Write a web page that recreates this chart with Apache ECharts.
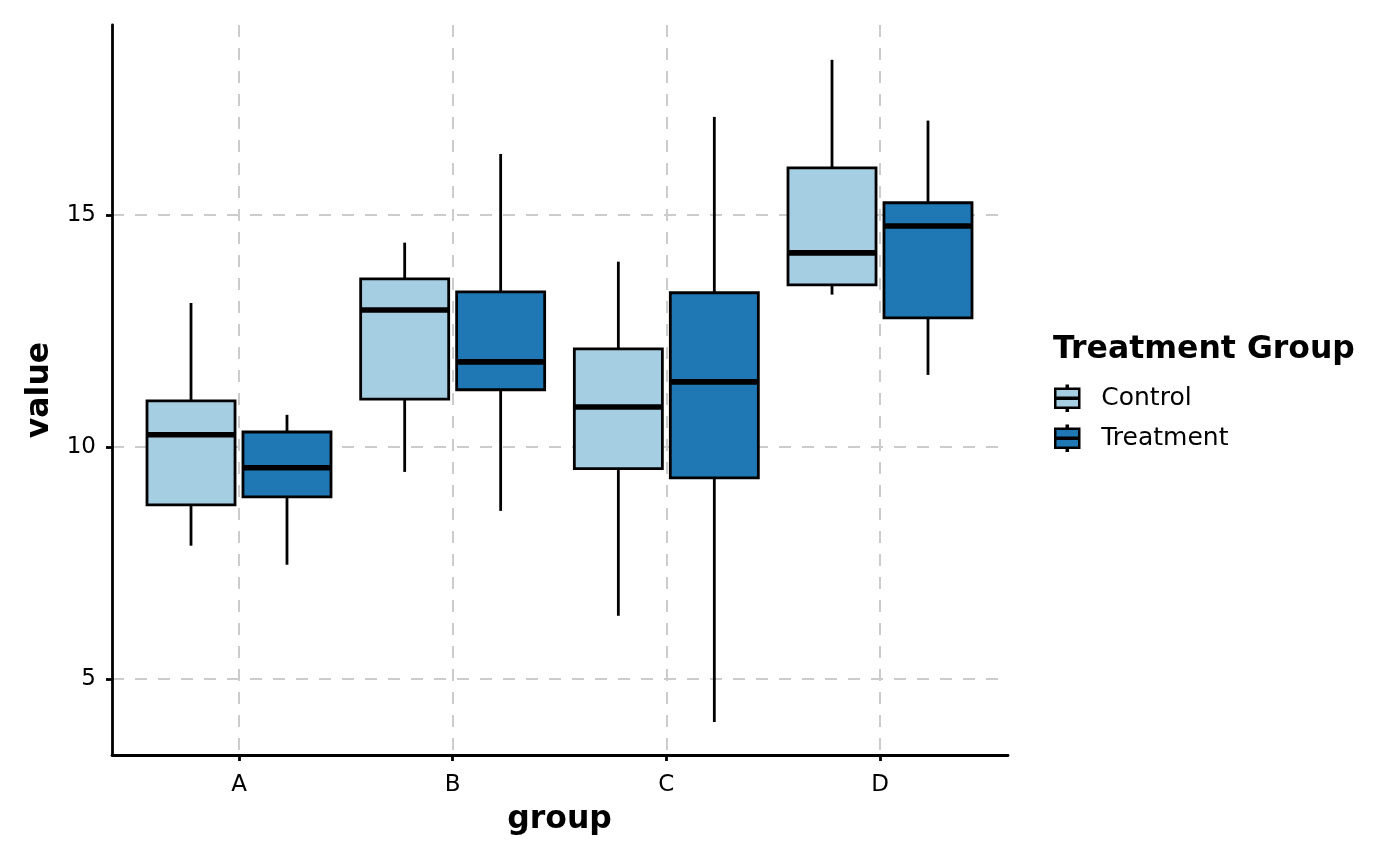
<!DOCTYPE html>
<html>
<head>
<meta charset="utf-8">
<script src="https://cdn.jsdelivr.net/npm/echarts@6/dist/echarts.min.js"></script>
<style>
html,body{margin:0;padding:0;background:#fff;}
#chart{width:1400px;height:866px;}
</style>
</head>
<body>
<div id="chart"></div>
<script>
// Data
const categories = ['A', 'B', 'C', 'D'];
const seriesNames = ['Control', 'Treatment'];
const seriesColors = ['#a6cee3', '#1f78b4'];
// [low whisker, Q1, median, Q3, high whisker]
const controlStats = [
  [7.87, 8.75, 10.26, 10.99, 13.10],
  [9.46, 11.03, 12.95, 13.62, 14.40],
  [6.36, 9.53, 10.86, 12.11, 13.99],
  [13.28, 13.49, 14.18, 16.01, 18.34]
];
const treatmentStats = [
  [7.46, 8.92, 9.55, 10.32, 10.69],
  [8.62, 11.23, 11.83, 13.34, 16.31],
  [4.07, 9.33, 11.40, 13.32, 17.11],
  [11.55, 12.78, 14.76, 15.26, 17.03]
];
const yTicks = [5, 10, 15];
const yMin = 3.36, yMax = 19.09;

const FONT = 'DejaVu Sans';
const chart = echarts.init(document.getElementById('chart'), null, {renderer: 'canvas'});

function makeData(stats) {
  return stats.map((s, i) => [i].concat(s));
}

function renderBox(params, api) {
  const ci = api.value(0);
  const x0 = api.coord([0, yMin])[0];
  const x1 = api.coord([1, yMin])[0];
  const band = x1 - x0;
  const sign = params.seriesIndex === 0 ? -1 : 1;
  const cx = api.coord([ci, yMin])[0] + sign * band * 0.2246;
  const w = band * 0.412;
  const yLow = api.coord([ci, api.value(1)])[1];
  const yQ1 = api.coord([ci, api.value(2)])[1];
  const yMed = api.coord([ci, api.value(3)])[1];
  const yQ3 = api.coord([ci, api.value(4)])[1];
  const yHigh = api.coord([ci, api.value(5)])[1];
  const color = seriesColors[params.seriesIndex];
  const lw = 2.8;
  return {
    type: 'group',
    children: [
      {type: 'line', shape: {x1: cx, y1: yHigh, x2: cx, y2: yQ3}, style: {stroke: '#000', lineWidth: lw}},
      {type: 'line', shape: {x1: cx, y1: yQ1, x2: cx, y2: yLow}, style: {stroke: '#000', lineWidth: lw}},
      {type: 'rect', shape: {x: cx - w / 2, y: yQ3, width: w, height: yQ1 - yQ3},
        style: {fill: color, stroke: '#000', lineWidth: lw}},
      {type: 'line', shape: {x1: cx - w / 2, y1: yMed, x2: cx + w / 2, y2: yMed},
        style: {stroke: '#000', lineWidth: 5.6}}
    ]
  };
}

const boxIcon = 'path://M0,3 L24,3 L24,22 L0,22 Z M0,12 L24,12 L24,13 L0,13 Z M11.5,0 L12.5,0 L12.5,3 L11.5,3 Z M11.5,22 L12.5,22 L12.5,25 L11.5,25 Z';

const dashGrid = {show: true, lineStyle: {color: '#cccccc', width: 2, type: [12, 11]}};

const option = {
  backgroundColor: '#ffffff',
  animation: false,
  title: {
    text: 'Treatment Group',
    left: 1053, top: 334, padding: 0,
    textStyle: {fontFamily: FONT, fontSize: 31.5, fontWeight: 'bold', color: '#000'}
  },
  legend: {
    orient: 'vertical',
    left: 1054, top: 384.5,
    itemWidth: 24, itemHeight: 25, itemGap: 12.5,
    padding: 0,
    data: seriesNames.map(n => ({name: n, icon: boxIcon})),
    itemStyle: {borderColor: '#000', borderWidth: 2.5},
    textStyle: {fontFamily: FONT, fontSize: 25, color: '#000', padding: [0, 0, 0, 17]}
  },
  grid: [
    {left: 112, right: 392, top: 25, bottom: 111, containLabel: false},
    {left: 239, right: 520, top: 25, bottom: 111, containLabel: false}
  ],
  xAxis: [
    {
      gridIndex: 0, type: 'value', min: 0, max: 1,
      axisLine: {show: true, onZero: false, lineStyle: {color: '#000', width: 2.8}},
      axisTick: {show: false}, axisLabel: {show: false}, splitLine: {show: false}
    },
    {
      gridIndex: 1, type: 'category', data: categories, boundaryGap: false,
      axisLine: {show: false},
      axisTick: {show: true, length: 6, alignWithLabel: true, lineStyle: {color: '#000', width: 2.8}},
      axisLabel: {fontFamily: FONT, fontSize: 23, color: '#000', margin: 19},
      splitLine: dashGrid,
      name: 'group', nameLocation: 'middle', nameGap: 49,
      nameTextStyle: {fontFamily: FONT, fontSize: 31.5, fontWeight: 'bold', color: '#000'}
    }
  ],
  yAxis: [
    {
      gridIndex: 0, type: 'value', min: yMin, max: yMax,
      axisLine: {show: true, onZero: false, lineStyle: {color: '#000', width: 2.8}},
      axisTick: {show: true, length: 6, customValues: yTicks, lineStyle: {color: '#000', width: 2.8}},
      axisLabel: {fontFamily: FONT, fontSize: 23, color: '#000', margin: 16, customValues: yTicks, padding: [4, 0, 0, 0]},
      splitLine: dashGrid,
      name: 'value', nameLocation: 'middle', nameGap: 55,
      nameTextStyle: {fontFamily: FONT, fontSize: 31.5, fontWeight: 'bold', color: '#000'}
    },
    {
      gridIndex: 1, type: 'value', min: yMin, max: yMax, show: false
    }
  ],
  series: [
    {
      name: seriesNames[0], type: 'custom', xAxisIndex: 1, yAxisIndex: 1,
      itemStyle: {color: seriesColors[0]},
      encode: {x: 0, y: [1, 2, 3, 4, 5]},
      renderItem: renderBox, data: makeData(controlStats), z: 5
    },
    {
      name: seriesNames[1], type: 'custom', xAxisIndex: 1, yAxisIndex: 1,
      itemStyle: {color: seriesColors[1]},
      encode: {x: 0, y: [1, 2, 3, 4, 5]},
      renderItem: renderBox, data: makeData(treatmentStats), z: 5
    }
  ]
};
chart.setOption(option);
</script>
</body>
</html>
